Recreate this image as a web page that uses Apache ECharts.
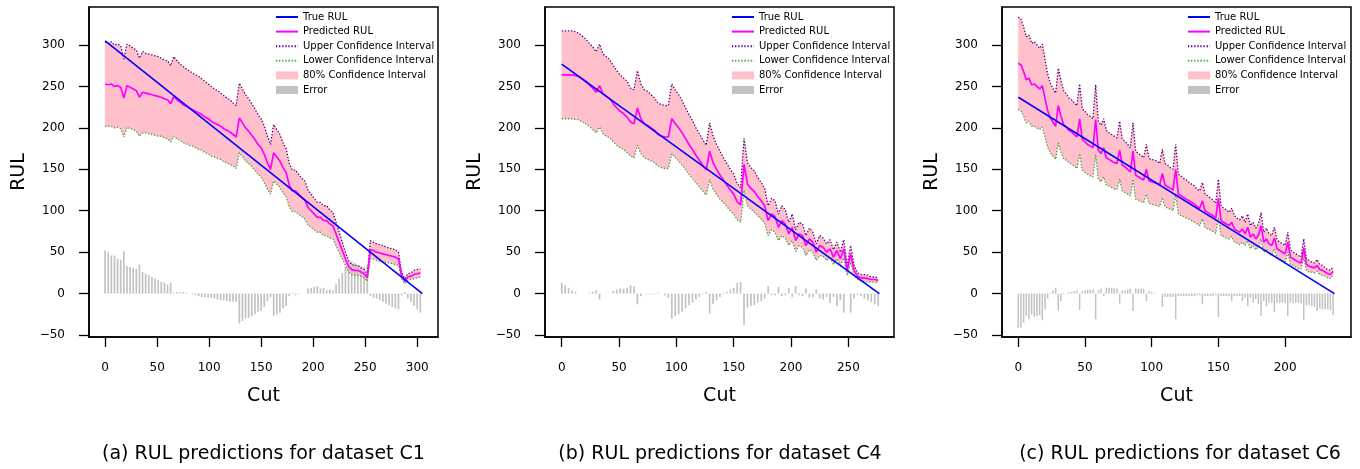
<!DOCTYPE html>
<html>
<head>
<meta charset="utf-8">
<script src="https://cdn.jsdelivr.net/npm/echarts@6/dist/echarts.min.js"></script>
<style>
html, body { margin: 0; padding: 0; background: #fff; }
#main { width: 1360px; height: 469px; }
</style>
</head>
<body>
<div id="main"></div>
<script>
// x positions of the sampled cuts
function range(a, b, s) { var r = []; for (var v = a; v <= b; v += s) r.push(v); return r; }

var captions = ['(a) RUL predictions for dataset C1', '(b) RUL predictions for dataset C4', '(c) RUL predictions for dataset C6'];
var yTicks = [-50, 0, 50, 100, 150, 200, 250, 300];
var xTicksC1 = [0, 50, 100, 150, 200, 250, 300];
var xTicksC4 = [0, 50, 100, 150, 200, 250];
var xTicksC6 = [0, 50, 100, 150, 200];

// ---- dataset C1 ----
var cutsC1 = range(0, 303, 3);
var trueC1 = [[0, 305], [305, 0]];
var predC1 = [253,252,253,250,251,249,236,251,249,247, 245,237,243,242,241,240,239,238,237,235,
  234,229,238,234,231,228,226,224,222,220, 218,216,213,211,208,206,204,202,199,197,
  195,192,189,212,206,200,196,191,186,180, 176,168,158,150,170,165,160,152,146,131,
  124,124,120,116,113,104,100,96,92,92, 88,88,84,82,72,62,52,42,33,29,
  28,28,26,24,19,53,52,50,49,48, 47,46,45,44,42,22,15,20,21,23, 24,25];
var upperC1 = [304,302,304,300,301,299,283,301,299,296, 294,284,292,290,289,288,287,286,284,282,
  281,275,286,281,277,274,271,269,266,264, 262,259,256,253,250,247,245,242,239,236,
  234,230,227,254,247,240,235,229,223,216, 211,202,190,180,204,198,192,182,175,157,
  149,149,144,139,136,125,120,115,110,110, 106,106,101,98,86,74,62,50,40,35,
  34,34,31,29,23,64,62,60,59,58, 56,55,54,53,50,26,18,24,25,28, 29,30];
var lowerC1 = [202,202,202,200,201,199,189,201,199,198, 196,190,194,194,193,192,191,190,190,188,
  187,183,190,187,185,182,181,179,178,176, 174,173,170,169,166,165,163,162,159,158,
  156,154,151,170,165,160,157,153,149,144, 141,134,126,120,136,132,128,122,117,105,
  99,99,96,93,90,83,80,77,74,74, 70,70,67,66,58,50,42,34,26,23,
  22,22,21,19,15,42,42,40,39,38, 38,37,36,35,34,18,12,16,17,18, 19,20];
var errC1 = [52,50,46,46,42,41,51,33,32,31, 30,35,26,24,22,20,18,16,14,13,
  11,13,1,2,2,2,1,0,-1,-2, -3,-4,-4,-5,-5,-6,-7,-8,-8,-9,
  -10,-10,-10,-36,-33,-30,-29,-27,-25,-22, -21,-16,-9,-4,-27,-25,-23,-18,-15,-3,
  1,-2,-1,0,0,6,7,8,9,6, 7,4,5,4,11,18,25,32,38,39,
  37,34,33,32,34,-3,-5,-6,-8,-10, -12,-14,-16,-18,-19,-2,2,-6,-10,-15, -19,-23];

// ---- dataset C4 ----
var cutsC4 = range(0, 276, 3);
var trueC4 = [[0, 277], [277, 0]];
var predC4 = [264,264,264,264,263,262,259,256,252,248, 243,251,241,238,235,229,224,220,217,213,
  207,205,224,211,205,203,200,197,192,190, 189,189,211,205,200,194,187,180,174,167,
  161,155,149,172,158,150,143,137,131,125, 120,111,107,156,132,127,123,117,112,106,
  88,96,93,80,88,84,72,80,64,72, 70,58,66,62,50,58,56,50,54,44,
  52,42,54,28,48,28,21,19,19,18, 17,17,16];
var upperC4 = [317,317,317,317,316,314,311,307,302,298, 292,301,289,286,282,275,269,264,260,256,
  248,246,269,253,246,244,240,236,230,228, 227,227,253,246,240,233,224,216,209,200,
  193,186,179,206,190,180,172,164,157,150, 144,133,128,187,158,152,148,140,134,127,
  106,115,112,96,106,101,86,96,77,86, 84,70,79,74,60,70,67,60,65,53,
  62,50,65,34,58,34,25,23,23,22, 20,20,19];
var lowerC4 = [211,211,211,211,210,210,207,205,202,198, 194,201,193,190,188,183,179,176,174,170,
  166,164,179,169,164,162,160,158,154,152, 151,151,169,164,160,155,150,144,139,134,
  129,124,119,138,126,120,114,110,105,100, 96,89,86,125,106,102,98,94,90,85,
  70,77,74,64,70,67,58,64,51,58, 56,46,53,50,40,46,45,40,43,35,
  42,34,43,22,38,22,17,15,15,14, 14,14,13];
var errC4 = [13,10,7,4,2,0,0,0,1,2, 4,-7,0,0,0,3,5,6,6,7,
  10,9,-13,-3,0,-1,-1,-1,1,0, -2,-5,-30,-27,-25,-22,-18,-14,-11,-7,
  -4,-1,2,-24,-13,-8,-4,-1,2,5, 7,13,14,-38,-17,-15,-14,-11,-9,-6,
  9,-2,-2,8,-3,-2,7,-4,9,-2, -3,6,-5,-4,5,-6,-7,-4,-11,-4,
  -15,-8,-23,0,-23,-6,-2,-3,-6,-8, -10,-13,-15];

// ---- dataset C6 ----
var cutsC6 = range(0, 236, 2);
var trueC6 = [[0, 237], [237, 0]];
var predC6 = [278,276,268,258,260,252,253,250,247,251, 236,221,212,207,202,227,214,204,201,197,
  195,192,189,211,186,183,180,178,176,210, 173,169,176,164,162,160,158,157,173,155,
  153,150,147,172,143,141,139,137,150,136, 135,134,133,131,145,131,129,127,125,150,
  120,118,116,114,112,110,108,105,103,112, 100,98,96,94,91,115,88,86,84,82,
  86,78,76,74,78,72,80,68,72,66, 70,82,62,66,60,58,67,54,52,50,
  48,62,44,42,40,38,37,55,35,33, 32,31,34,29,28,26,24,23,27];
var upperC6 = [334,331,322,310,312,302,304,300,296,301, 283,265,254,248,242,272,257,245,241,236,
  234,230,227,253,223,220,216,214,211,252, 208,203,211,197,194,192,190,188,208,186,
  184,180,176,206,172,169,167,164,180,163, 162,161,160,157,174,157,155,152,150,180,
  144,142,139,137,134,132,130,126,124,134, 120,118,115,113,109,138,106,103,101,98,
  103,94,91,89,94,86,96,82,86,79, 84,98,74,79,72,70,80,65,62,60,
  58,74,53,50,48,46,44,66,42,40, 38,37,41,35,34,31,29,28,32];
var lowerC6 = [222,221,214,206,208,202,202,200,198,201, 189,177,170,166,162,182,171,163,161,158,
  156,154,151,169,149,146,144,142,141,168, 138,135,141,131,130,128,126,126,138,124,
  122,120,118,138,114,113,111,110,120,109, 108,107,106,105,116,105,103,102,100,120,
  96,94,93,91,90,88,86,84,82,90, 80,78,77,75,73,92,70,69,67,66,
  69,62,61,59,62,58,64,54,58,53, 56,66,50,53,48,46,54,43,42,40,
  38,50,35,34,32,30,30,44,28,26, 26,25,27,23,22,21,19,18,22];
var errC6 = [-41,-41,-35,-27,-31,-25,-28,-27,-26,-32, -19,-6,1,4,7,-20,-9,-1,0,2,
  2,3,4,-20,3,4,5,5,5,-31, 4,6,-3,7,7,7,7,6,-12,4,
  4,5,6,-21,6,6,6,6,-9,3, 2,1,0,0,-16,-4,-4,-4,-4,-31,
  -3,-3,-3,-3,-3,-3,-3,-2,-2,-13, -3,-3,-3,-3,-2,-28,-3,-3,-3,-3,
  -9,-3,-3,-3,-9,-5,-15,-5,-11,-7, -13,-27,-9,-15,-11,-11,-22,-11,-11,-11,
  -11,-27,-11,-11,-11,-11,-12,-32,-14,-14, -15,-16,-21,-18,-19,-19,-19,-20,-26];

var FONT = 'DejaVu Sans';
var PINK = '#ffc0cb';
var GREY = '#c2c2c2';

var panels = [
  { cuts: cutsC1, truth: trueC1, pred: predC1, upper: upperC1, lower: lowerC1, err: errC1, xTicks: xTicksC1,
    xMin: -15.5, xMax: 320, left: 89, legendLeft: 275, capX: 263.5, barW: 1.7 },
  { cuts: cutsC4, truth: trueC4, pred: predC4, upper: upperC4, lower: lowerC4, err: errC4, xTicks: xTicksC4,
    xMin: -14.6, xMax: 289.8, left: 545, legendLeft: 731, capX: 720, barW: 1.7 },
  { cuts: cutsC6, truth: trueC6, pred: predC6, upper: upperC6, lower: lowerC6, err: errC6, xTicks: xTicksC6,
    xMin: -12.2, xMax: 249.4, left: 1002, legendLeft: 1187, capX: 1180, barW: 1.5 }
];

function pairs(xs, ys) { return xs.map(function (x, k) { return [x, ys[k]]; }); }
function minusFmt(v) { return v < 0 ? '\u2212' + Math.abs(v) : String(v); }

var option = {
  animation: false,
  backgroundColor: '#fff',
  textStyle: { fontFamily: FONT },
  grid: [], xAxis: [], yAxis: [], series: [], legend: [], graphic: []
};

panels.forEach(function (p, i) {
  option.grid.push({ left: p.left, top: 7, width: 349, height: 330, show: true,
    borderColor: '#000', borderWidth: 1.5, backgroundColor: 'transparent' });

  option.xAxis.push({
    gridIndex: i, type: 'value', min: p.xMin, max: p.xMax,
    name: 'Cut', nameLocation: 'middle', nameGap: 50,
    nameTextStyle: { fontSize: 19, color: '#000', fontFamily: FONT },
    splitLine: { show: false },
    axisLine: { show: true, onZero: false, lineStyle: { color: '#000', width: 1.5 } },
    axisTick: { show: true, length: 10, customValues: p.xTicks, lineStyle: { color: '#000', width: 1.3 } },
    axisLabel: { customValues: p.xTicks, margin: 25, fontSize: 12, color: '#000', fontFamily: FONT }
  });

  option.yAxis.push({
    gridIndex: i, type: 'value', min: -52.4, max: 345.9,
    name: 'RUL', nameLocation: 'middle', nameGap: 60,
    nameTextStyle: { fontSize: 19, color: '#000', fontFamily: FONT },
    splitLine: { show: false },
    axisLine: { show: true, onZero: false, lineStyle: { color: '#000', width: 1.5 } },
    axisTick: { show: true, length: 10, customValues: yTicks, lineStyle: { color: '#000', width: 1.3 } },
    axisLabel: { customValues: yTicks, margin: 24, fontSize: 12, color: '#000', fontFamily: FONT, formatter: minusFmt }
  });

  // 80% confidence band as one polygon between the upper and lower bounds
  option.series.push({
    type: 'custom', name: '80% Confidence Interval', xAxisIndex: i, yAxisIndex: i,
    itemStyle: { color: PINK }, z: 1, silent: true,
    data: p.cuts.map(function (c, k) { return [c, p.lower[k], p.upper[k]]; }),
    encode: { x: 0, y: [1, 2] },
    renderItem: function (params, api) {
      if (params.dataIndex !== 0) return null;
      var pts = [], k;
      for (k = 0; k < p.cuts.length; k++) pts.push(api.coord([p.cuts[k], p.upper[k]]));
      for (k = p.cuts.length - 1; k >= 0; k--) pts.push(api.coord([p.cuts[k], p.lower[k]]));
      return { type: 'polygon', shape: { points: pts }, style: { fill: PINK, stroke: PINK, lineWidth: 0.5 } };
    }
  });

  option.series.push({
    type: 'bar', name: 'Error', xAxisIndex: i, yAxisIndex: i, barWidth: p.barW,
    itemStyle: { color: GREY }, z: 2, silent: true,
    data: pairs(p.cuts, p.err)
  });

  option.series.push({
    type: 'line', name: 'Upper Confidence Interval', xAxisIndex: i, yAxisIndex: i, symbol: 'none',
    itemStyle: { color: '#4b0082' }, lineStyle: { color: '#4b0082', width: 1.3, type: [1.3, 1.8] }, z: 3,
    data: pairs(p.cuts, p.upper)
  });

  option.series.push({
    type: 'line', name: 'Lower Confidence Interval', xAxisIndex: i, yAxisIndex: i, symbol: 'none',
    itemStyle: { color: '#3ea83e' }, lineStyle: { color: '#3ea83e', width: 1.3, type: [1.3, 1.8] }, z: 3,
    data: pairs(p.cuts, p.lower)
  });

  option.series.push({
    type: 'line', name: 'Predicted RUL', xAxisIndex: i, yAxisIndex: i, symbol: 'none',
    itemStyle: { color: '#ff00ff' }, lineStyle: { color: '#ff00ff', width: 1.7 }, z: 4,
    data: pairs(p.cuts, p.pred)
  });

  option.series.push({
    type: 'line', name: 'True RUL', xAxisIndex: i, yAxisIndex: i, symbol: 'none',
    itemStyle: { color: '#0000ff' }, lineStyle: { color: '#0000ff', width: 1.6 }, z: 5,
    data: p.truth
  });

  // line entries: hide the marker ECharts puts in the middle of a line icon
  var noDot = { opacity: 0 };
  option.legend.push({
    orient: 'vertical', left: p.legendLeft, top: 12, padding: 0,
    itemWidth: 22, itemHeight: 8, itemGap: 4.6,
    selectedMode: false, textStyle: { fontSize: 10, color: '#000', fontFamily: FONT },
    data: [
      { name: 'True RUL', itemStyle: noDot },
      { name: 'Predicted RUL', itemStyle: noDot },
      { name: 'Upper Confidence Interval', itemStyle: noDot },
      { name: 'Lower Confidence Interval', itemStyle: noDot },
      { name: '80% Confidence Interval', icon: 'rect', itemStyle: { color: PINK } },
      { name: 'Error', icon: 'rect', itemStyle: { color: GREY } }
    ]
  });

  option.graphic.push({
    type: 'text', x: p.capX, y: 454,
    style: { text: captions[i], font: '19px "DejaVu Sans"', fill: '#000', align: 'center', verticalAlign: 'middle' }
  });
});

var chart = echarts.init(document.getElementById('main'));
chart.setOption(option);
</script>
</body>
</html>
